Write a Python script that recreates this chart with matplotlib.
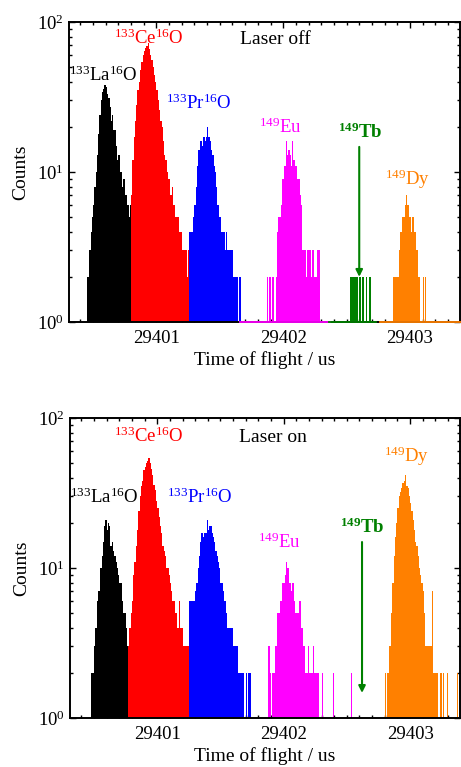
import matplotlib
matplotlib.use('Agg')
import matplotlib.pyplot as plt
import numpy as np
from matplotlib.ticker import MultipleLocator, LogLocator, NullFormatter

plt.rcParams['font.family'] = 'Liberation Serif'
plt.rcParams['mathtext.fontset'] = 'custom'
plt.rcParams['mathtext.rm'] = 'Liberation Serif'
plt.rcParams['mathtext.it'] = 'Liberation Serif:italic'
plt.rcParams['mathtext.bf'] = 'Liberation Serif:bold'

BIN = 0.01  # us, histogram bin width

# ---- Laser off (top) : start time of first bin, counts per bin ----
off_la_start = 29400.45
off_la = [2, 2, 3, 4, 5, 6, 8, 10, 13, 18, 24, 30, 34, 36, 38, 37, 33, 31, 27, 22,
          24, 19, 19, 15, 12, 13, 10, 10, 8, 9, 7, 7, 6, 5, 6]
off_ce_start = 29400.80
off_ce = [7, 12, 17, 22, 28, 35, 40, 48, 54, 60, 64, 67, 69, 72, 66, 60, 56, 50, 44, 40,
          35, 30, 26, 22, 20, 16, 13, 12, 10, 9, 9, 7, 8, 6, 6, 5, 5, 5, 4, 4,
          3, 3, 3, 3, 2, 3]
off_pr_start = 29401.26
off_pr = [4, 4, 4, 5, 6, 8, 11, 14, 16, 16, 15, 17, 16, 17, 20, 17, 16, 14, 13, 11,
          10, 8, 6, 5, 5, 4, 4, 4, 3, 4, 3, 3, 3, 3, 2, 2, 2, 2, 0, 2, 2]
off_eu_start = 29401.66
off_eu = [0] * 21 + [2, 0, 2, 0, 2, 2, 0, 2, 4, 5, 5, 6, 9, 9, 11, 16, 13, 14, 13, 11,
                     16, 12, 11, 11, 9, 9, 7, 6, 3, 3, 3, 2, 3, 3, 3, 2, 3, 2, 2, 2,
                     3, 3, 0, 0, 0, 0, 0, 0, 0, 0]
off_tb_start = 29402.36
off_tb = [0] * 17 + [2, 2, 2, 2, 2, 2, 0, 2, 0, 2, 2, 0, 2, 0, 0, 2, 0, 0, 0, 0]
off_dy_start = 29402.76
off_dy = [0] * 11 + [2, 2, 2, 2, 3, 4, 4, 5, 5, 6, 7, 6, 5, 5, 4, 5, 4, 4, 3, 2,
                     2, 0, 0, 2, 0, 2] + [0] * 28

# ---- Laser on (bottom) ----
on_la_start = 29400.48
on_la = [2, 2, 3, 4, 6, 7, 7, 10, 12, 15, 19, 21, 18, 20, 19, 14, 15, 13, 12, 11,
         10, 9, 8, 8, 6, 5, 5, 4, 3]
on_ce_start = 29400.77
on_ce = [3, 4, 5, 6, 9, 11, 14, 18, 24, 30, 35, 38, 45, 47, 50, 52, 54, 50, 46, 42,
         36, 33, 28, 25, 22, 19, 17, 14, 13, 12, 10, 10, 9, 8, 7, 6, 6, 5, 5, 4,
         6, 4, 4, 3, 3, 3, 3, 3]
on_pr_start = 29401.25
on_pr = [6, 6, 6, 6, 6, 7, 8, 10, 12, 15, 17, 16, 17, 17, 21, 18, 19, 19, 17, 16,
         15, 13, 12, 11, 10, 8, 8, 7, 6, 5, 4, 4, 4, 4, 4, 3, 3, 3, 3, 2,
         2, 2, 2, 2, 0, 2, 0, 2, 2]
on_eu_start = 29401.74
on_eu = [0] * 14 + [3, 2, 0, 2, 2, 3, 3, 5, 5, 6, 6, 8, 8, 9, 11, 10, 8, 8, 7, 8,
                    6, 5, 5, 5, 6, 6, 4, 3, 3, 2, 2, 3, 2, 2, 2, 3, 2, 2, 2, 2,
                    0, 0, 2, 0, 0, 0, 0, 0, 0, 0, 0, 2, 0, 0, 0, 0, 0, 0, 0, 0,
                    0, 0, 0, 0, 0, 2]
on_dy_start = 29402.80
on_dy = [2, 0, 2, 3, 3, 5, 8, 12, 16, 20, 25, 30, 32, 34, 37, 38, 42, 35, 34, 30,
         27, 24, 21, 18, 15, 14, 12, 10, 9, 8, 7, 5, 3, 3, 3, 3, 3, 7, 2, 2,
         2, 2, 0, 0, 2, 0, 2, 0, 0, 2, 0, 0, 0, 0, 0, 0, 0, 2]

colors = {'la': 'black', 'ce': '#ff0000', 'pr': '#0000ff', 'eu': '#ff00ff',
          'tb': '#008000', 'dy': '#ff8000'}

panels = [
    {'series': [('la', off_la_start, off_la), ('ce', off_ce_start, off_ce),
                ('pr', off_pr_start, off_pr), ('eu', off_eu_start, off_eu),
                ('tb', off_tb_start, off_tb), ('dy', off_dy_start, off_dy)],
     'baseline': ['eu', 'tb', 'dy'],
     'title': 'Laser off',
     'arrow': (29402.60, 14.7, 2.0)},
    {'series': [('la', on_la_start, on_la), ('ce', on_ce_start, on_ce),
                ('pr', on_pr_start, on_pr), ('eu', on_eu_start, on_eu),
                ('dy', on_dy_start, on_dy)],
     'baseline': [],
     'title': 'Laser on',
     'arrow': (29402.62, 14.9, 1.47)},
]

# label positions (axes fraction) per panel
label_text = {'la': r'$^{133}$La$^{16}$O', 'ce': r'$^{133}$Ce$^{16}$O',
              'pr': r'$^{133}$Pr$^{16}$O', 'eu': r'$^{149}$Eu',
              'tb': r'$\mathbf{^{149}}$Tb', 'dy': r'$^{149}$Dy'}
label_pos = [
    {'la': (0.087, 0.823), 'ce': (0.205, 0.947), 'pr': (0.331, 0.728),
     'eu': (0.540, 0.650), 'tb': (0.746, 0.633), 'dy': (0.866, 0.477),
     'title': (0.528, 0.940)},
    {'la': (0.088, 0.737), 'ce': (0.203, 0.940), 'pr': (0.332, 0.737),
     'eu': (0.538, 0.587), 'tb': (0.750, 0.637), 'dy': (0.863, 0.872),
     'title': (0.521, 0.935)},
]

fig = plt.figure(figsize=(4.61, 7.67), dpi=100)
axes = [fig.add_axes([69 / 461, 1 - 322 / 767, 391 / 461, 300 / 767]),
        fig.add_axes([70 / 461, 1 - 718 / 767, 390 / 461, 300 / 767])]

for ax, panel, pos in zip(axes, panels, label_pos):
    ax.set_yscale('log')
    for key, start, counts in panel['series']:
        counts = np.array(counts, dtype=float)
        t = start + BIN * np.arange(len(counts))
        ax.bar(t, counts, width=BIN * 1.02, color=colors[key], linewidth=0,
               align='edge', zorder=2)
        if key in panel['baseline']:
            ax.plot([t[0], t[-1] + BIN], [1, 1], color=colors[key], lw=1.3,
                    zorder=4, clip_on=False)

    ax.set_xlim(29400.31, 29403.395)
    ax.set_ylim(1, 100)

    ax.xaxis.set_major_locator(MultipleLocator(1))
    ax.xaxis.set_minor_locator(MultipleLocator(0.1))
    ax.xaxis.set_major_formatter(matplotlib.ticker.FormatStrFormatter('%d'))
    ax.yaxis.set_major_locator(LogLocator(base=10, numticks=5))
    ax.yaxis.set_minor_locator(LogLocator(base=10, subs=np.arange(2, 10), numticks=12))
    ax.yaxis.set_minor_formatter(NullFormatter())
    ax.tick_params(which='both', direction='in', top=True, right=True,
                   labelsize=13.5, width=1.0)
    ax.tick_params(which='major', length=4.5)
    ax.tick_params(axis='x', which='major', pad=6)
    ax.tick_params(which='minor', length=2.2)
    for s in ax.spines.values():
        s.set_linewidth(1.4)

    ax.set_ylabel('Counts', fontsize=14, labelpad=6)
    ax.set_xlabel('Time of flight / us', fontsize=14, labelpad=3)

    for key in ['la', 'ce', 'pr', 'eu', 'tb', 'dy']:
        x, y = pos[key]
        kw = dict(fontweight='bold') if key == 'tb' else {}
        ax.text(x, y, label_text[key], transform=ax.transAxes, ha='center',
                va='center', fontsize=13.5, color=colors[key], **kw)
    ax.text(*pos['title'], panel['title'], transform=ax.transAxes, ha='center',
            va='center', fontsize=14)

    xa, ytop, ybot = panel['arrow']
    ax.annotate('', xy=(xa, ybot), xytext=(xa, ytop),
                arrowprops=dict(arrowstyle='-|>', color=colors['tb'], lw=1.5,
                                mutation_scale=10, shrinkA=0, shrinkB=0))

fig.savefig('out.png', dpi=100)
